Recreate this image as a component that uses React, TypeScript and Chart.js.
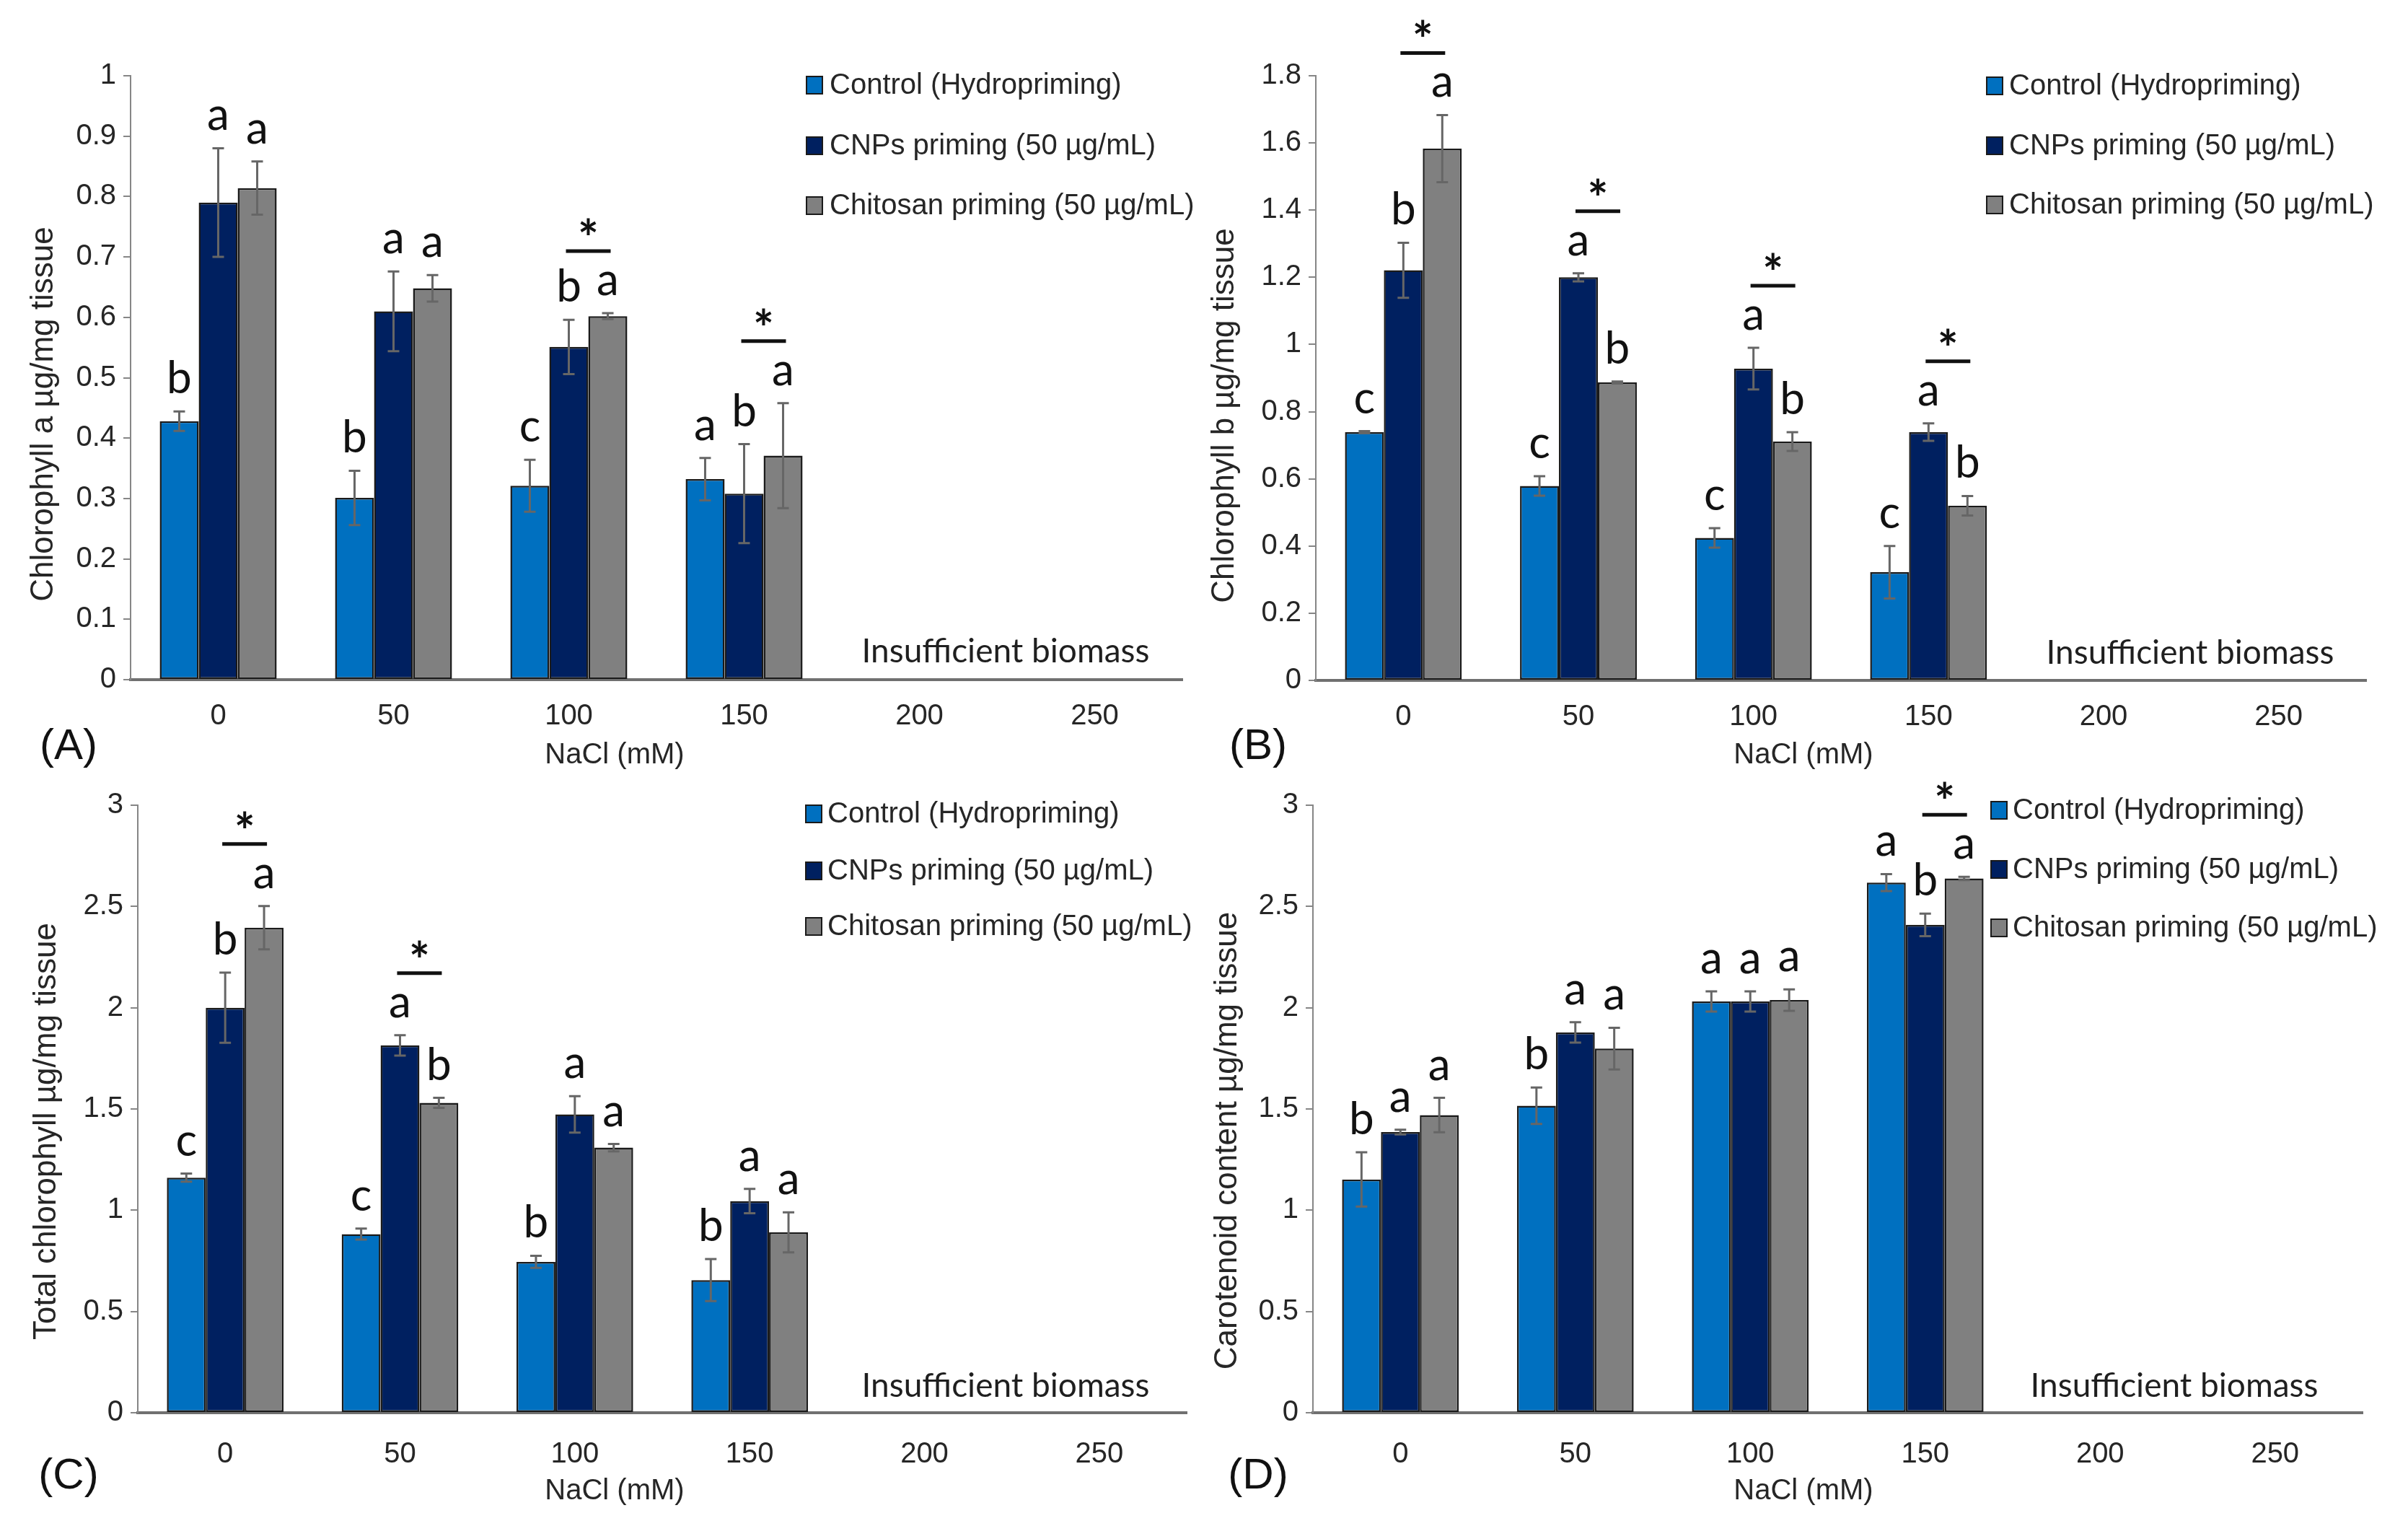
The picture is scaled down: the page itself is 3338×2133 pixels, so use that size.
import React, { useEffect, useRef } from 'react';
import { Chart, registerables } from 'chart.js';

Chart.register(...registerables);

const W = 3338;
const H = 2133;

// ---------- data ----------
const categories = ['0', '50', '100', '150', '200', '250'];
const seriesNames = ['Control (Hydropriming)', 'CNPs priming (50 µg/mL)', 'Chitosan priming (50 µg/mL)'];
const seriesColors = ['#0070C0', '#002060', '#808080'];

// (A) Chlorophyll a
const chlA_control = [0.428, 0.301, 0.321, 0.332];
const chlA_control_err = [0.016, 0.045, 0.043, 0.035];
const chlA_cnp = [0.79, 0.61, 0.551, 0.308];
const chlA_cnp_err = [0.09, 0.066, 0.045, 0.082];
const chlA_chit = [0.814, 0.648, 0.602, 0.371];
const chlA_chit_err = [0.044, 0.022, 0.005, 0.087];
const chlA_letters_control = ['b', 'b', 'c', 'a'];
const chlA_letters_cnp = ['a', 'a', 'b', 'b'];
const chlA_letters_chit = ['a', 'a', 'a', 'a'];
const chlA_stars = [2, 3];
const chlA_axis = [0, 1, 0.1];

// (B) Chlorophyll b
const chlB_control = [0.739, 0.579, 0.424, 0.322];
const chlB_control_err = [0.003, 0.029, 0.029, 0.078];
const chlB_cnp = [1.221, 1.2, 0.928, 0.739];
const chlB_cnp_err = [0.082, 0.012, 0.062, 0.026];
const chlB_chit = [1.583, 0.887, 0.711, 0.52];
const chlB_chit_err = [0.1, 0.003, 0.028, 0.029];
const chlB_letters_control = ['c', 'c', 'c', 'c'];
const chlB_letters_cnp = ['b', 'a', 'a', 'a'];
const chlB_letters_chit = ['a', 'b', 'b', 'b'];
const chlB_stars = [0, 1, 2, 3];
const chlB_axis = [0, 1.8, 0.2];

// (C) Total chlorophyll
const chlT_control = [1.161, 0.882, 0.745, 0.655];
const chlT_control_err = [0.02, 0.027, 0.03, 0.104];
const chlT_cnp = [2.0, 1.814, 1.473, 1.045];
const chlT_cnp_err = [0.173, 0.05, 0.09, 0.06];
const chlT_chit = [2.395, 1.53, 1.309, 0.891];
const chlT_chit_err = [0.107, 0.025, 0.018, 0.099];
const chlT_letters_control = ['c', 'c', 'b', 'b'];
const chlT_letters_cnp = ['b', 'a', 'a', 'a'];
const chlT_letters_chit = ['a', 'b', 'a', 'a'];
const chlT_stars = [0, 1];
const chlT_axis = [0, 3, 0.5];

// (D) Carotenoid content
const car_control = [1.152, 1.516, 2.031, 2.618];
const car_control_err = [0.134, 0.09, 0.05, 0.042];
const car_cnp = [1.386, 1.878, 2.031, 2.409];
const car_cnp_err = [0.012, 0.05, 0.05, 0.056];
const car_chit = [1.47, 1.798, 2.038, 2.638];
const car_chit_err = [0.085, 0.103, 0.053, 0.008];
const car_letters_control = ['b', 'b', 'a', 'a'];
const car_letters_cnp = ['a', 'a', 'a', 'b'];
const car_letters_chit = ['a', 'a', 'a', 'a'];
const car_stars = [3];
const car_axis = [0, 3, 0.5];

const yTitles = [
  'Chlorophyll a µg/mg tissue',
  'Chlorophyll b µg/mg tissue',
  'Total chlorophyll µg/mg tissue',
  'Carotenoid content µg/mg tissue',
];
const panelLabels = ['(A)', '(B)', '(C)', '(D)'];
const xTitle = 'NaCl (mM)';
const noteText = 'Insufficient biomass';

// ---------- layout (page pixels) ----------
const layouts = [
  { left: 181, right: 1639, top: 105, bottom: 942, xPad: 27, yTitleX: 61, yTitleY: 574, xTitleX: 852, xTitleY: 1047, labelX: 95, labelY: 1035, noteX: 1394, noteY: 918, legX: 1118, legTextX: 1150, legY: [118, 202, 285] },
  { left: 1824, right: 3280, top: 105, bottom: 943, xPad: 27, yTitleX: 1698, yTitleY: 576, xTitleX: 2500, xTitleY: 1047, labelX: 1744, labelY: 1035, noteX: 3036, noteY: 920, legX: 2754, legTextX: 2785, legY: [119, 202, 284] },
  { left: 191, right: 1645, top: 1116, bottom: 1958, xPad: 34, yTitleX: 65, yTitleY: 1568, xTitleX: 852, xTitleY: 2067, labelX: 95, labelY: 2046, noteX: 1394, noteY: 1936, legX: 1117, legTextX: 1147, legY: [1128, 1207, 1284] },
  { left: 1820, right: 3275, top: 1116, bottom: 1958, xPad: 34, yTitleX: 1702, yTitleY: 1581, xTitleX: 2500, xTitleY: 2067, labelX: 1744, labelY: 2046, noteX: 3014, noteY: 1936, legX: 2760, legTextX: 2790, legY: [1123, 1205, 1286] },
];

const panels = [
  { values: [chlA_control, chlA_cnp, chlA_chit], errs: [chlA_control_err, chlA_cnp_err, chlA_chit_err], letters: [chlA_letters_control, chlA_letters_cnp, chlA_letters_chit], stars: chlA_stars, axis: chlA_axis },
  { values: [chlB_control, chlB_cnp, chlB_chit], errs: [chlB_control_err, chlB_cnp_err, chlB_chit_err], letters: [chlB_letters_control, chlB_letters_cnp, chlB_letters_chit], stars: chlB_stars, axis: chlB_axis },
  { values: [chlT_control, chlT_cnp, chlT_chit], errs: [chlT_control_err, chlT_cnp_err, chlT_chit_err], letters: [chlT_letters_control, chlT_letters_cnp, chlT_letters_chit], stars: chlT_stars, axis: chlT_axis },
  { values: [car_control, car_cnp, car_chit], errs: [car_control_err, car_cnp_err, car_chit_err], letters: [car_letters_control, car_letters_cnp, car_letters_chit], stars: car_stars, axis: car_axis },
];

const TEXT_FONT = '"Liberation Sans", Arial, sans-serif';
const CAL_FONT = 'Lato, "Open Sans", sans-serif';
const Y_AXIS_W = 110;
const X_AXIS_H = 90;

function makePlugin(idx: number) {
  const p = panels[idx];
  const L = layouts[idx];
  return {
    id: 'decor' + idx,
    afterDatasetsDraw(chart: any) {
      const ctx = chart.ctx;
      const y = chart.scales.y;
      ctx.save();
      ctx.strokeStyle = '#666666';
      ctx.lineWidth = 3;
      p.values.forEach((vals, s) => {
        const meta = chart.getDatasetMeta(s);
        vals.forEach((v, i) => {
          const bar = meta.data[i];
          if (!bar) return;
          const e = p.errs[s][i];
          const yt = y.getPixelForValue(v + e);
          const yb = y.getPixelForValue(v - e);
          ctx.beginPath();
          ctx.moveTo(bar.x, yt);
          ctx.lineTo(bar.x, yb);
          ctx.moveTo(bar.x - 8, yt);
          ctx.lineTo(bar.x + 8, yt);
          ctx.moveTo(bar.x - 8, yb);
          ctx.lineTo(bar.x + 8, yb);
          ctx.stroke();
        });
      });
      ctx.restore();
    },
    afterDraw(chart: any) {
      const ctx = chart.ctx;
      const y = chart.scales.y;
      ctx.save();
      // significance letters
      ctx.fillStyle = '#111111';
      ctx.font = '62px ' + CAL_FONT;
      ctx.textAlign = 'center';
      ctx.textBaseline = 'alphabetic';
      p.values.forEach((vals, s) => {
        const meta = chart.getDatasetMeta(s);
        vals.forEach((v, i) => {
          const bar = meta.data[i];
          if (!bar) return;
          const yt = y.getPixelForValue(v + p.errs[s][i]);
          ctx.fillText(p.letters[s][i], bar.x, yt - 25);
        });
      });
      // asterisks
      p.stars.forEach((i) => {
        const b1 = chart.getDatasetMeta(1).data[i];
        const b2 = chart.getDatasetMeta(2).data[i];
        const t1 = y.getPixelForValue(p.values[1][i] + p.errs[1][i]);
        const t2 = y.getPixelForValue(p.values[2][i] + p.errs[2][i]);
        const lineY = Math.min(t1, t2) - 86;
        const mx = (b1.x + b2.x) / 2;
        ctx.strokeStyle = '#111111';
        ctx.lineWidth = 5;
        ctx.beginPath();
        ctx.moveTo(mx - 31, lineY);
        ctx.lineTo(mx + 31, lineY);
        ctx.stroke();
        ctx.font = 'bold 68px ' + CAL_FONT;
        const m = ctx.measureText('*');
        const cy = lineY - 34;
        const base = cy + (m.actualBoundingBoxAscent - m.actualBoundingBoxDescent) / 2;
        ctx.fillText('*', mx, base);
      });
      // legend
      ctx.textAlign = 'left';
      ctx.textBaseline = 'middle';
      ctx.font = '40px ' + TEXT_FONT;
      seriesNames.forEach((name, s) => {
        const cy = L.legY[s];
        ctx.fillStyle = seriesColors[s];
        ctx.fillRect(L.legX, cy - 12, 22, 24);
        ctx.strokeStyle = '#1a1a1a';
        ctx.lineWidth = 2;
        ctx.strokeRect(L.legX, cy - 12, 22, 24);
        ctx.fillStyle = '#262626';
        ctx.fillText(name, L.legTextX, cy + 1);
      });
      // "Insufficient biomass"
      ctx.textAlign = 'center';
      ctx.textBaseline = 'alphabetic';
      ctx.font = '46px ' + CAL_FONT;
      ctx.fillStyle = '#1f1f1f';
      ctx.fillText(noteText, L.noteX, L.noteY);
      // x title
      ctx.textBaseline = 'middle';
      ctx.font = '40px ' + TEXT_FONT;
      ctx.fillStyle = '#262626';
      ctx.fillText(xTitle, L.xTitleX, L.xTitleY);
      // panel label
      ctx.font = '60px ' + TEXT_FONT;
      ctx.fillStyle = '#111111';
      ctx.fillText(panelLabels[idx], L.labelX, L.labelY);
      // y title
      ctx.translate(L.yTitleX, L.yTitleY);
      ctx.rotate(-Math.PI / 2);
      ctx.font = '44px ' + TEXT_FONT;
      ctx.fillStyle = '#262626';
      ctx.fillText(yTitles[idx], 0, 0);
      ctx.restore();
    },
  };
}

function Panel({ idx }: { idx: number }) {
  const ref = useRef<HTMLCanvasElement>(null);
  useEffect(() => {
    const p = panels[idx];
    const L = layouts[idx];
    const chart = new Chart(ref.current as HTMLCanvasElement, {
      type: 'bar',
      data: {
        labels: categories,
        datasets: p.values.map((vals, s) => ({
          label: seriesNames[s],
          data: vals,
          backgroundColor: seriesColors[s],
          borderColor: '#1a1a1a',
          borderWidth: 2.5,
          borderSkipped: false,
          categoryPercentage: 0.667,
          barPercentage: 1.0,
        })),
      },
      options: {
        responsive: false,
        animation: false,
        devicePixelRatio: 1,
        events: [],
        layout: {
          padding: {
            left: L.left - Y_AXIS_W,
            right: W - L.right,
            top: L.top,
            bottom: H - L.bottom - X_AXIS_H,
          },
        },
        plugins: {
          legend: { display: false },
          tooltip: { enabled: false },
          title: { display: false },
        },
        scales: {
          x: {
            grid: { display: false, drawTicks: false },
            border: { display: true, color: '#707070', width: 4 },
            ticks: {
              color: '#262626',
              font: { family: TEXT_FONT, size: 40 },
              padding: L.xPad,
              maxRotation: 0,
              autoSkip: false,
            },
            afterFit: (scale: any) => { scale.height = X_AXIS_H; },
          },
          y: {
            min: p.axis[0],
            max: p.axis[1],
            grid: { display: true, drawOnChartArea: false, drawTicks: true, tickLength: 10, color: '#868686', lineWidth: 2 },
            border: { display: true, color: '#868686', width: 2 },
            ticks: {
              stepSize: p.axis[2],
              color: '#262626',
              font: { family: TEXT_FONT, size: 40 },
              padding: 10,
              callback: (v: any) => String(Number(Number(v).toFixed(2))),
            },
            afterFit: (scale: any) => { scale.width = Y_AXIS_W; },
          },
        },
      },
      plugins: [makePlugin(idx)],
    } as any);
    return () => chart.destroy();
  }, [idx]);
  return (
    <canvas
      ref={ref}
      width={W}
      height={H}
      style={{ position: 'absolute', left: 0, top: 0, width: W, height: H }}
    />
  );
}

export default function App() {
  return (
    <div style={{ position: 'fixed', left: 0, top: 0, width: W, height: H, background: '#ffffff', overflow: 'hidden' }}>
      {[0, 1, 2, 3].map((i) => (
        <Panel key={i} idx={i} />
      ))}
    </div>
  );
}
